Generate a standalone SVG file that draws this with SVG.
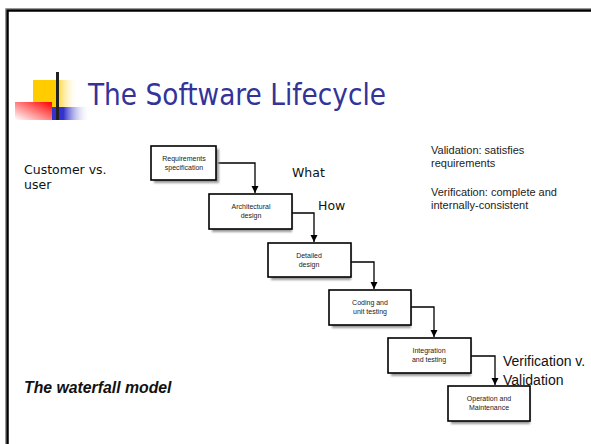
<svg xmlns="http://www.w3.org/2000/svg" width="591" height="444" viewBox="0 0 591 444">
  <defs>
    <linearGradient id="gYellow" x1="0" y1="0" x2="1" y2="0">
      <stop offset="0" stop-color="#ffcc00"/>
      <stop offset="0.5" stop-color="#ffcc00"/>
      <stop offset="1" stop-color="#ffffff" stop-opacity="0"/>
    </linearGradient>
    <linearGradient id="gRed" x1="1" y1="0" x2="0" y2="1">
      <stop offset="0" stop-color="#ff0000"/>
      <stop offset="1" stop-color="#ffffff"/>
    </linearGradient>
    <linearGradient id="gBlue" x1="0" y1="0" x2="1" y2="0">
      <stop offset="0" stop-color="#3333cc"/>
      <stop offset="0.3" stop-color="#3333cc"/>
      <stop offset="1" stop-color="#ffffff" stop-opacity="0"/>
    </linearGradient>
    <marker id="arrow" viewBox="0 0 10 10" refX="10" refY="5" markerWidth="7" markerHeight="9" markerUnits="userSpaceOnUse" orient="auto">
      <path d="M0,0 L10,5 L0,10 z" fill="#000"/>
    </marker>
    <filter id="soft" x="-10%" y="-10%" width="130%" height="140%">
      <feGaussianBlur stdDeviation="0.8"/>
    </filter>
  </defs>
  <style>
    .box { fill: #fff; stroke: #000; stroke-width: 1.6; }
    .shadow { fill: #999; filter: url(#soft); }
    .btxt { font-family: "Liberation Sans", Arial, sans-serif; font-size: 7px; fill: #222; text-anchor: middle; }
    .conn { fill: none; stroke: #000; stroke-width: 1.3; marker-end: url(#arrow); }
    .note { font-family: "Liberation Sans", Arial, sans-serif; font-size: 11px; fill: #222; }
    .big { font-family: "DejaVu Sans", Verdana, sans-serif; font-size: 12.5px; fill: #111; }
    .mid { font-family: "Liberation Sans", Arial, sans-serif; font-size: 14px; fill: #111; }
  </style>

  <rect width="591" height="444" fill="#fff"/>

  <!-- slide frame -->
  <path d="M5.5,444 V8.5 H591" fill="none" stroke="#999" stroke-width="1"/>
  <path d="M7.5,444 V10.5 H591" fill="none" stroke="#000" stroke-width="2.5"/>

  <!-- title bullet mark -->
  <g id="logo">
    <rect x="33" y="80" width="45" height="27" fill="url(#gYellow)"/>
    <rect x="15" y="102" width="37" height="18" fill="url(#gRed)"/>
    <rect x="52" y="107" width="38" height="13" fill="url(#gBlue)"/>
    <rect x="56" y="72" width="3" height="48" fill="#222"/>
  </g>

  <text id="title" x="88" y="105" font-family="DejaVu Sans, Verdana, sans-serif" font-size="31" fill="#333399" textLength="298" lengthAdjust="spacingAndGlyphs">The Software Lifecycle</text>

  <!-- side notes -->
  <text class="big" x="24" y="174">Customer vs.</text>
  <text class="big" x="24" y="189">user</text>
  <text class="big" x="292" y="177">What</text>
  <text class="big" x="318" y="210">How</text>
  <text class="note" x="431" y="154">Validation: satisfies</text>
  <text class="note" x="431" y="167">requirements</text>
  <text class="note" x="431" y="196">Verification: complete and</text>
  <text class="note" x="431" y="209">internally-consistent</text>
  <text class="mid" x="503" y="366">Verification v.</text>
  <text class="mid" x="503" y="385">Validation</text>
  <text x="24" y="393" font-family="Liberation Sans, Arial, sans-serif" font-size="15.8" font-weight="bold" font-style="italic" fill="#111">The waterfall model</text>

  <!-- connectors -->
  <g id="connectors">
    <path class="conn" d="M216,163 H255 V193"/>
    <path class="conn" d="M292,213 H314 V242"/>
    <path class="conn" d="M351,262 H374 V289"/>
    <path class="conn" d="M411,307 H434 V337"/>
    <path class="conn" d="M471,356 H495 V385"/>
  </g>

  <!-- phases -->
  <g id="requirements">
    <rect class="shadow" x="154" y="149" width="65" height="34"/>
    <rect class="box" x="151" y="146" width="65" height="34"/>
    <text class="btxt" x="184" y="161">Requirements</text>
    <text class="btxt" x="184" y="170">specification</text>
  </g>
  <g id="architectural">
    <rect class="shadow" x="212" y="197" width="80" height="35"/>
    <rect class="box" x="209" y="194" width="83" height="35"/>
    <text class="btxt" x="251" y="209">Architectural</text>
    <text class="btxt" x="251" y="218">design</text>
  </g>
  <g id="detailed">
    <rect class="shadow" x="271" y="246" width="80" height="34"/>
    <rect class="box" x="268" y="243" width="83" height="34"/>
    <text class="btxt" x="309" y="258">Detailed</text>
    <text class="btxt" x="309" y="267">design</text>
  </g>
  <g id="coding">
    <rect class="shadow" x="332" y="293" width="79" height="35"/>
    <rect class="box" x="329" y="290" width="82" height="35"/>
    <text class="btxt" x="370" y="305">Coding and</text>
    <text class="btxt" x="370" y="314">unit testing</text>
  </g>
  <g id="integration">
    <rect class="shadow" x="391" y="341" width="80" height="35"/>
    <rect class="box" x="388" y="338" width="83" height="35"/>
    <text class="btxt" x="429" y="353">Integration</text>
    <text class="btxt" x="429" y="362">and testing</text>
  </g>
  <g id="operation">
    <rect class="shadow" x="451" y="389" width="79" height="35"/>
    <rect class="box" x="448" y="386" width="82" height="35"/>
    <text class="btxt" x="489" y="401">Operation and</text>
    <text class="btxt" x="489" y="410">Maintenance</text>
  </g>
</svg>
